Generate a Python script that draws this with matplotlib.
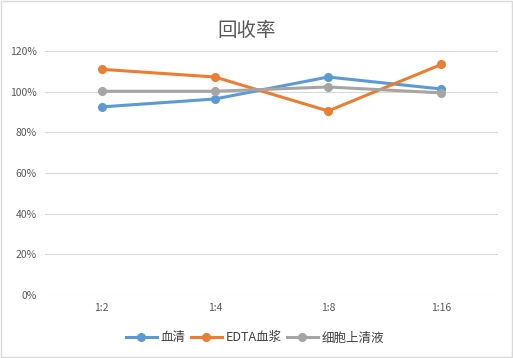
import numpy as np
import matplotlib.pyplot as plt
from matplotlib.ticker import FuncFormatter

plt.rcParams['font.family'] = ['Noto Sans CJK SC', 'DejaVu Sans']

# data
categories = ['1:2', '1:4', '1:8', '1:16']
serum = [92.5, 96.4, 107.2, 101.3]
edta_plasma = [111.0, 107.2, 90.5, 113.4]
supernatant = [100.2, 100.2, 102.3, 99.4]

series_names = ['血清', 'EDTA血浆', '细胞上清液']
colors = ['#5B9BD5', '#ED7D31', '#A5A5A5']

fig = plt.figure(figsize=(5.13, 3.58), dpi=100)
ax = fig.add_axes([45 / 513, 1 - 295 / 358, 453 / 513, 244 / 358])

x = np.arange(len(categories))
for vals, name, c in zip([serum, edta_plasma, supernatant], series_names, colors):
    ax.plot(x, vals, color=c, lw=2.2, marker='o', ms=5.5, label=name)

ax.set_xlim(-0.5, len(categories) - 0.5)
ax.set_ylim(0, 120)
ax.set_yticks(np.arange(0, 121, 20))
ax.yaxis.set_major_formatter(FuncFormatter(lambda v, p: f'{v:.0f}%'))
ax.set_xticks(x)
ax.set_xticklabels(categories)
ax.grid(axis='y', color='#D9D9D9', lw=0.8)
ax.set_axisbelow(True)
for s in ax.spines.values():
    s.set_visible(False)
ax.tick_params(length=0, labelsize=7.5, colors='#595959', pad=6)

fig.text(247 / 513, 1 - 30 / 358, '回收率', ha='center', va='center', fontsize=14, color='#595959')

ax.legend(loc='center', bbox_to_anchor=((255 - 45) / 453, (295 - 338) / 244), ncol=3, frameon=False,
          fontsize=9, handlelength=2.5, handletextpad=0.3, columnspacing=0.4,
          labelcolor='#404040')

# light border round the chart
fig.patches.append(plt.Rectangle((0.002, 0.003), 0.996, 0.994, transform=fig.transFigure,
                                 fill=False, edgecolor='#D9D9D9', lw=1))

fig.savefig('out.png', dpi=100)
